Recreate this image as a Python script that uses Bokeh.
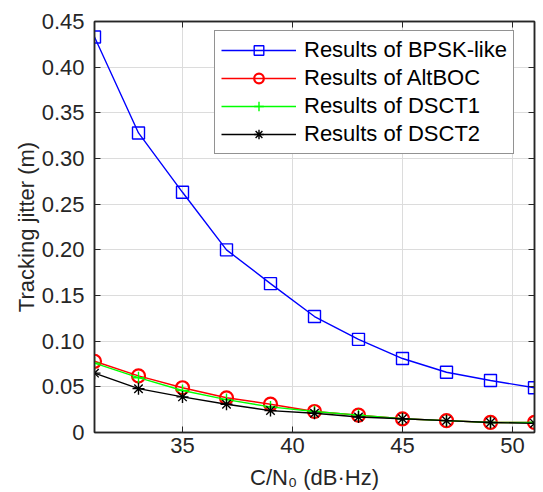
from bokeh.plotting import figure
from bokeh.models import LinearAxis, FixedTicker, CustomJSTickFormatter, Range1d, Legend
from bokeh.embed import file_html
from bokeh.resources import INLINE

cn0 = [31, 33, 35, 37, 39, 41, 43, 45, 47, 49, 51]
bpsk = [0.433, 0.328, 0.263, 0.200, 0.163, 0.127, 0.102, 0.081, 0.066, 0.057, 0.049]
altboc = [0.078, 0.062, 0.049, 0.038, 0.031, 0.023, 0.019, 0.015, 0.013, 0.011, 0.011]
dsct1 = [0.076, 0.060, 0.046, 0.036, 0.028, 0.023, 0.019, 0.015, 0.013, 0.011, 0.011]
dsct2 = [0.065, 0.048, 0.039, 0.031, 0.024, 0.021, 0.017, 0.015, 0.013, 0.011, 0.010]
x_ticks = [35, 40, 45, 50]
y_ticks = [0, 0.05, 0.10, 0.15, 0.20, 0.25, 0.30, 0.35, 0.40, 0.45]

FONT = "Liberation Sans"
FS = "22px"

p = figure(width=543, height=492, output_backend="svg", toolbar_location=None,
           x_range=Range1d(31, 51), y_range=Range1d(0, 0.45),
           min_border_left=94, min_border_right=9, min_border_top=21, min_border_bottom=60)

p.outline_line_color = "#262626"
p.outline_line_width = 1.5
p.background_fill_color = "white"

for ax in (p.xaxis[0], p.yaxis[0]):
    ax.major_tick_in = 6
    ax.major_tick_out = 0
    ax.minor_tick_line_color = None
    ax.axis_line_color = "#262626"
    ax.axis_line_width = 1.5
    ax.major_tick_line_color = "#262626"
    ax.major_label_text_font = FONT
    ax.major_label_text_font_size = FS
    ax.major_label_text_color = "#262626"
    ax.axis_label_text_font = FONT
    ax.axis_label_text_font_size = FS
    ax.axis_label_text_font_style = "normal"
    ax.axis_label_text_color = "#262626"

p.xaxis[0].ticker = FixedTicker(ticks=x_ticks)
p.yaxis[0].ticker = FixedTicker(ticks=y_ticks)
p.yaxis[0].formatter = CustomJSTickFormatter(code="return tick == 0 ? '0' : tick.toFixed(2);")
p.xaxis[0].axis_label = "C/N\u2080 (dB\u00b7Hz)"
p.yaxis[0].axis_label = "Tracking jitter (m)"
p.yaxis[0].major_label_standoff = 10
p.xaxis[0].major_label_standoff = 5
p.yaxis[0].axis_label_standoff = 0
p.xaxis[0].axis_label_standoff = 9

for loc, tick in (("right", y_ticks), ("above", x_ticks)):
    a = LinearAxis(ticker=FixedTicker(ticks=tick),
                   formatter=CustomJSTickFormatter(code="return '';"))
    a.major_tick_in = 6
    a.major_tick_out = 0
    a.minor_tick_line_color = None
    a.major_label_standoff = 0
    a.axis_line_color = "#262626"
    a.axis_line_width = 1.5
    a.major_tick_line_color = "#262626"
    p.add_layout(a, loc)

p.xgrid.ticker = FixedTicker(ticks=x_ticks)
p.ygrid.ticker = FixedTicker(ticks=y_ticks)
p.grid.grid_line_color = "#dcdcdc"
p.grid.grid_line_width = 1

r1 = p.line(cn0, bpsk, line_color="#0000ff", line_width=1.4)
s1 = p.scatter(cn0, bpsk, marker="square", size=12, fill_color=None, line_color="#0000ff", line_width=1.4)
r2 = p.line(cn0, altboc, line_color="#ff0000", line_width=1.4)
s2 = p.scatter(cn0, altboc, marker="circle", size=13, fill_color=None, line_color="#ff0000", line_width=2.2)
r3 = p.line(cn0, dsct1, line_color="#00ff00", line_width=1.4)
s3 = p.scatter(cn0, dsct1, marker="cross", size=12, line_color="#00ff00", line_width=1.4)
r4 = p.line(cn0, dsct2, line_color="black", line_width=1.4)
s4 = p.scatter(cn0, dsct2, marker="asterisk", size=12, line_color="black", line_width=1.4)

legend = Legend(items=[
    ("Results of BPSK-like", [r1, s1]),
    ("Results of AltBOC", [r2, s2]),
    ("Results of DSCT1", [r3, s3]),
    ("Results of DSCT2", [r4, s4]),
], location=(120, 278))
legend.margin = 0
legend.padding = 6
legend.spacing = 2
legend.glyph_width = 75
legend.glyph_height = 24
legend.label_height = 24
legend.label_standoff = 8
legend.label_text_font = FONT
legend.label_text_font_size = FS
legend.label_text_color = "black"
legend.border_line_color = "#262626"
legend.border_line_width = 1
legend.background_fill_alpha = 1
p.add_layout(legend, "center")

open("out.html", "w").write(file_html(p, INLINE))
